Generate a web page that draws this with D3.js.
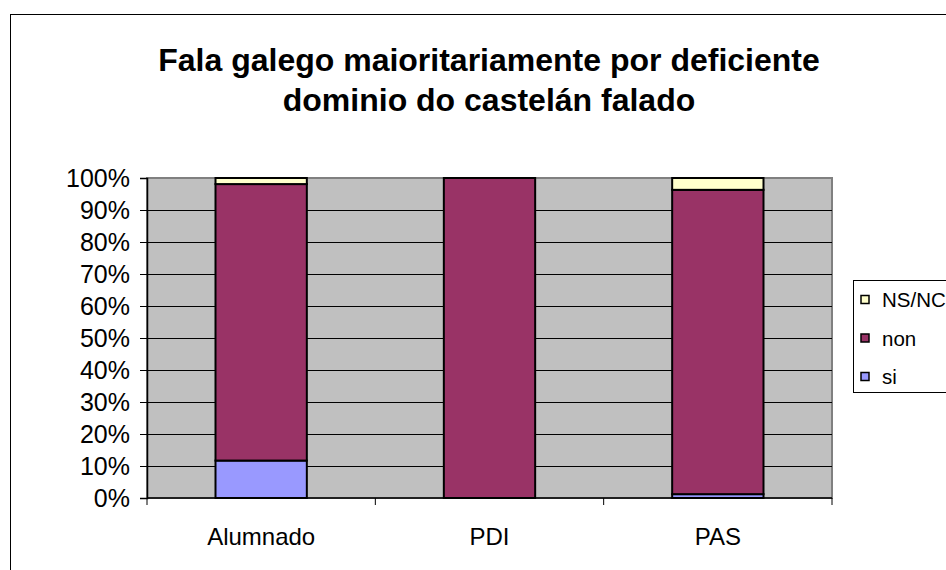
<!DOCTYPE html>
<html>
<head>
<meta charset="utf-8">
<script src="https://cdn.jsdelivr.net/npm/d3@7"></script>
<style>
  body { margin: 0; background: #fff; }
  text { font-family: 'Liberation Sans', Arial, sans-serif; }
</style>
</head>
<body>
<div id="chart"></div>
<script>
// Data
var categories = ['Alumnado', 'PDI', 'PAS']
var si = [11.7, 0, 1.2]
var non = [86.4, 100, 95.1]
var nsnc = [1.9, 0, 3.7]
var seriesNames = ['si', 'non', 'NS/NC']
var seriesColors = ['#9999ff', '#993366', '#ffffcc']
var yTicks = [0, 10, 20, 30, 40, 50, 60, 70, 80, 90, 100]
var titleLines = ['Fala galego maioritariamente por deficiente', 'dominio do castelán falado']

var chart = {
  width: 946,
  height: 570,
  left: 147,
  right: 832,
  top: 178,
  bottom: 498
}

chart.svg = d3.select('#chart')
  .append('svg')
  .attr('width', chart.width)
  .attr('height', chart.height)

// outer border
chart.svg.append('rect')
  .attr('x', 10.5).attr('y', 14.5)
  .attr('width', 980).attr('height', 600)
  .attr('fill', 'white')
  .attr('stroke', '#000').attr('stroke-width', 1)

// title
chart.svg.append('text')
  .attr('text-anchor', 'middle')
  .style('font-size', '32px')
  .style('font-weight', 'bold')
  .selectAll('tspan')
  .data(titleLines)
  .enter()
  .append('tspan')
  .attr('x', 489)
  .attr('y', (d, i) => 71 + i * 40)
  .text(d => d)

var x = d3.scaleBand()
  .domain(categories)
  .range([chart.left, chart.right])
  .paddingInner(0.6)
  .paddingOuter(0.3)

var y = d3.scaleLinear()
  .domain([0, 100])
  .range([chart.bottom, chart.top])

// plot area
chart.svg.append('rect')
  .attr('x', chart.left).attr('y', chart.top)
  .attr('width', chart.right - chart.left)
  .attr('height', chart.bottom - chart.top)
  .attr('fill', '#c0c0c0')
  .attr('stroke', '#808080').attr('stroke-width', 2)

// gridlines
chart.svg.append('g')
  .selectAll('line')
  .data(yTicks.filter(d => d > 0 && d < 100))
  .enter()
  .append('line')
  .attr('x1', chart.left).attr('x2', chart.right)
  .attr('y1', d => y(d) + 0.5).attr('y2', d => y(d) + 0.5)
  .attr('stroke', '#000').attr('stroke-width', 1)

// stacked bars
var rows = categories.map((c, i) => ({ category: c, si: si[i], non: non[i], 'NS/NC': nsnc[i] }))
var stacked = d3.stack().keys(seriesNames)(rows)

chart.svg.append('g')
  .selectAll('g')
  .data(stacked)
  .enter()
  .append('g')
  .attr('fill', (d, i) => seriesColors[i])
  .selectAll('rect')
  .data(d => d.filter(p => p[1] - p[0] > 0))
  .enter()
  .append('rect')
  .attr('x', d => x(d.data.category))
  .attr('y', d => y(d[1]))
  .attr('width', x.bandwidth())
  .attr('height', d => y(d[0]) - y(d[1]))
  .attr('stroke', '#000')
  .attr('stroke-width', 2)

// y axis
var yAxis = chart.svg.append('g')
  .attr('transform', `translate(${chart.left},0)`)
  .call(d3.axisLeft(y).tickValues(yTicks).tickSize(7).tickFormat(d => d + '%'))
yAxis.select('.domain').attr('stroke', '#000').attr('stroke-width', 1.5)
yAxis.selectAll('.tick line').attr('stroke', '#000')
yAxis.selectAll('.tick text')
  .attr('x', -17)
  .style('font-size', '25px')
  .style('font-family', "'Liberation Sans', Arial, sans-serif")
  .attr('fill', '#000')

// x axis
var xTickPos = d3.range(categories.length + 1).map(i => chart.left + i * x.step())
chart.svg.append('line')
  .attr('x1', chart.left).attr('x2', chart.right)
  .attr('y1', chart.bottom).attr('y2', chart.bottom)
  .attr('stroke', '#000').attr('stroke-width', 1.5)
chart.svg.append('g')
  .selectAll('line')
  .data(xTickPos)
  .enter()
  .append('line')
  .attr('x1', d => d).attr('x2', d => d)
  .attr('y1', chart.bottom).attr('y2', chart.bottom + 7)
  .attr('stroke', '#000')
chart.svg.append('g')
  .selectAll('text')
  .data(categories)
  .enter()
  .append('text')
  .attr('x', d => x(d) + x.bandwidth() / 2)
  .attr('y', 545)
  .attr('text-anchor', 'middle')
  .style('font-size', '24px')
  .text(d => d)

// legend
var legend = chart.svg.append('g')
legend.append('rect')
  .attr('x', 853.5).attr('y', 280.5)
  .attr('width', 120).attr('height', 112)
  .attr('fill', 'white')
  .attr('stroke', '#000').attr('stroke-width', 1)

var legendItems = legend.selectAll('g.item')
  .data(seriesNames.slice().reverse())
  .enter()
  .append('g')
  .attr('class', 'item')
  .attr('transform', (d, i) => `translate(0,${300 + i * 38.5})`)

legendItems.append('rect')
  .attr('x', 861).attr('y', -4.5)
  .attr('width', 8).attr('height', 8)
  .attr('fill', d => seriesColors[seriesNames.indexOf(d)])
  .attr('stroke', '#000').attr('stroke-width', 1.5)

legendItems.append('text')
  .attr('x', 882)
  .attr('dy', '0.36em')
  .style('font-size', '20.5px')
  .text(d => d)
</script>
</body>
</html>
